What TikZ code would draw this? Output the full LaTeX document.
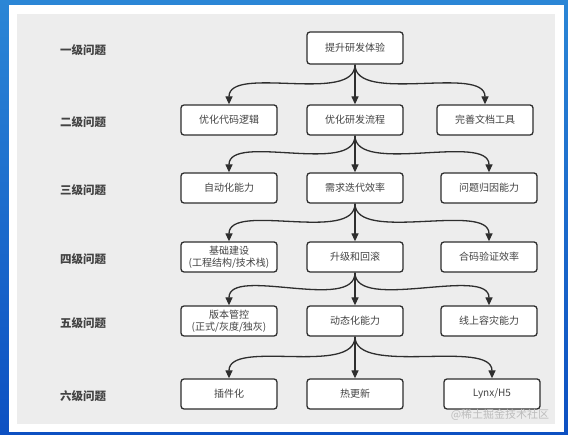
\documentclass[tikz,border=0pt]{standalone}
\usepackage{fontspec}
\usepackage{tikz}
\usetikzlibrary{arrows.meta}
\newfontfamily\cjk{Noto Sans CJK SC}
\definecolor{frameA}{HTML}{2B86D6}
\definecolor{frameB}{HTML}{0D50C2}
\definecolor{panel}{HTML}{EDEDED}
\definecolor{ink}{HTML}{2E2E2E}
\definecolor{mark}{HTML}{BDBDBD}

\begin{document}
\begin{tikzpicture}[x=1pt, y=-1pt,
  every node/.style={font=\cjk\fontsize{10}{12}\selectfont, text=ink!90},
  box/.style={draw=ink, line width=1.3pt, fill=white, rounded corners=3pt,
    minimum width=96pt, minimum height=30pt, inner sep=2pt, align=center},
  lvl/.style={font=\cjk\bfseries\fontsize{11.5}{13}\selectfont},
  arr/.style={draw=ink, line width=1.3pt, -{Triangle[length=8pt,width=7pt]}}]
  \useasboundingbox (0,0) rectangle (568,435);
  \shade[top color=frameA, bottom color=frameB] (0,0) rectangle (568,435);
  \fill[white] (9,5) rectangle (564,432);
  \fill[panel] (17,14) rectangle (555,424);

  \foreach \y/\t [count=\i] in {50/一级问题,122/二级问题,190/三级问题,259/四级问题,323/五级问题,396/六级问题}
    \node[lvl] (lv\i) at (83,\y) {\t};

  \node[box, minimum height=32pt] (a2) at (355,48) {提升研发体验};
  \node[box] (b1) at (229,120) {优化代码逻辑};
  \node[box] (b2) at (355,120) {优化研发流程};
  \node[box] (b3) at (485,120) {完善文档工具};
  \node[box] (c1) at (229,188) {自动化能力};
  \node[box] (c2) at (355,188) {需求迭代效率};
  \node[box] (c3) at (489,188) {问题归因能力};
  \node[box] (d1) at (229,257) {基础建设\\(工程结构/技术栈)};
  \node[box] (d2) at (355,257) {升级和回滚};
  \node[box] (d3) at (489,257) {合码验证效率};
  \node[box] (e1) at (229,321) {版本管控\\(正式/灰度/独灰)};
  \node[box] (e2) at (355,321) {动态化能力};
  \node[box] (e3) at (489,321) {线上容灾能力};
  \node[box] (f1) at (229,394) {插件化};
  \node[box] (f2) at (355,394) {热更新};
  \node[box] (f3) at (492,394) {Lynx/H5};

  \foreach \p/\c in {a/b,b/c,c/d,d/e,e/f} {
    \draw[arr] (\p2.south) -- (\c2.north);
    \draw[arr] (\p2.south) .. controls +(0,40) and +(0,-40) .. (\c1.north);
    \draw[arr] (\p2.south) .. controls +(0,40) and +(0,-40) .. (\c3.north);
  }

  \node[font=\cjk\fontsize{11}{13}\selectfont, text=mark] (wm) at (500,415) {@稀土掘金技术社区};
\end{tikzpicture}
\end{document}
